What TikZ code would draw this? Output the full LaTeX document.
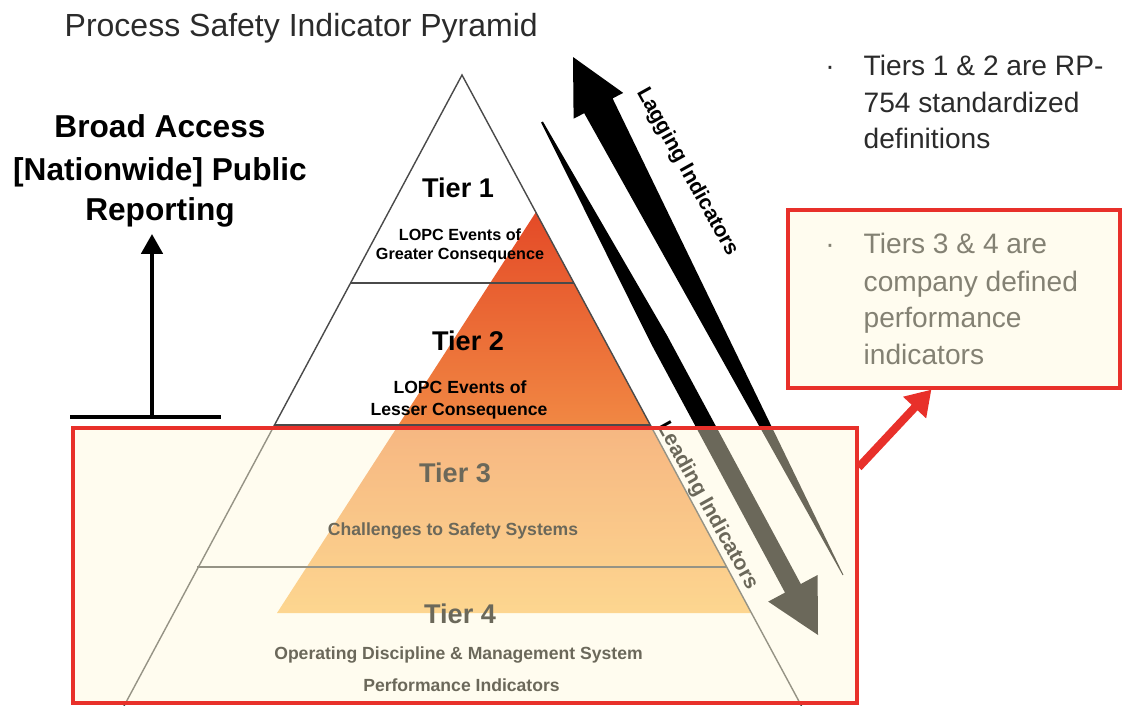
\documentclass[tikz,border=0pt]{standalone}
\usepackage{fontspec}
\setmainfont{Liberation Sans}
\usetikzlibrary{arrows.meta,fit}

\definecolor{boxred}{HTML}{E8302A}
\definecolor{cream}{HTML}{FFF8D8}
\definecolor{pyrgray}{HTML}{4A4A4A}
\definecolor{ortop}{HTML}{E44A27}
\definecolor{ormid}{HTML}{F2893F}
\definecolor{orbot}{HTML}{FCBE5C}
\definecolor{inkgray}{HTML}{2B2B2B}

\begin{document}
\begin{tikzpicture}[x=0.01cm,y=-0.01cm,
    pyrline/.style={draw=pyrgray,line width=0.4pt},
    tiertitle/.style={font=\bfseries\fontsize{7.7}{9}\selectfont,anchor=base,inner sep=0pt},
    tiersub/.style={font=\bfseries\fontsize{5}{6}\selectfont,anchor=base,inner sep=0pt},
    note/.style={font=\fontsize{8}{10}\selectfont,text=inkgray,anchor=base west,inner sep=0pt},
    access/.style={font=\bfseries\fontsize{9}{11}\selectfont,anchor=base,inner sep=0pt},
    arrowlabel/.style={font=\bfseries\fontsize{6}{7}\selectfont,inner sep=0pt},
    overlaybox/.style={draw=boxred,line width=0.9pt,fill=cream,fill opacity=0.42,inner sep=0pt}]
\useasboundingbox (0,0) rectangle (1124,706);
% title
\node[anchor=base west,inner sep=0pt,text=inkgray,font=\fontsize{9.1}{11}\selectfont] (title) at (64,36) {Process Safety Indicator Pyramid};
% orange wedge
\shade[top color=ortop,middle color=ormid,bottom color=orbot] (536,212) -- (277,613) -- (751,613) -- cycle;
% pyramid
\draw[pyrline] (124,706) -- (462,75) -- (801.5,706);
\draw[pyrline] (350.1,283) -- (573.9,283);
\draw[pyrline] (273.7,425) -- (650.3,425);
\draw[pyrline] (197.3,567) -- (726.7,567);
\node[tiertitle] (tier1) at (458,197) {Tier 1};
\node[tiersub,font=\bfseries\fontsize{4.6}{5}\selectfont] (tier1a) at (460,240) {LOPC Events of};
\node[tiersub,font=\bfseries\fontsize{4.6}{5}\selectfont] (tier1b) at (460,259) {Greater Consequence};
\node[tiertitle] (tier2) at (468,350) {Tier 2};
\node[tiersub] (tier2a) at (460,393) {LOPC Events of};
\node[tiersub] (tier2b) at (459,415) {Lesser Consequence};
\node[tiertitle] (tier3) at (455,482) {Tier 3};
\node[tiersub] (tier3a) at (453,535) {Challenges to Safety Systems};
\node[tiertitle] (tier4) at (460,623) {Tier 4};
\node[tiersub] (tier4a) at (458.5,659) {Operating Discipline \& Management System};
\node[tiersub] (tier4b) at (461.5,691) {Performance Indicators};
% lagging and leading arrows
\fill[black] (573,57) -- (623.2,92.9) -- (612.6,98.4) -- (843.4,574.8) -- (842.6,575.2) -- (584.2,113.2) -- (573.6,118.7) -- cycle;
\fill[black] (542.9,121.5) -- (667.2,335.7) -- (800.8,584.0) -- (817.6,575.0) -- (818,635) -- (768.2,601.6) -- (785.0,592.6) -- (651.4,344.3) -- (541.1,122.5) -- cycle;
\node[arrowlabel,rotate=-61] (lagging) at (687,172) {Lagging Indicators};
\node[arrowlabel,rotate=-61] (leading) at (707,506) {Leading Indicators};
% public reporting
\node[access] (access1) at (160,137) {Broad Access};
\node[access] (access2) at (160,180) {[Nationwide] Public};
\node[access] (access3) at (160,220) {Reporting};
\draw[line width=1.4pt] (70,417) -- (221,417);
\coordinate (barmid) at (152,417);
\draw[line width=1.3pt,-{Triangle[length=5.7pt,width=6pt]},shorten >=0.65mm] (barmid) -- (barmid |- access3.south);
% notes
\node[note,anchor=base] (dot1) at (830,75) {·};
\node[note] (note1a) at (863,75) {Tiers 1 \& 2 are RP-};
\node[note] (note1b) at (863,112) {754 standardized};
\node[note] (note1c) at (863,148) {definitions};
\node[note,anchor=base] (dot2) at (830,253) {·};
\node[note] (note2a) at (863,253) {Tiers 3 \& 4 are};
\node[note] (note2b) at (863,291) {company defined};
\node[note] (note2c) at (863,327) {performance};
\node[note] (note2d) at (863,364) {indicators};
% boxes
\coordinate (tbnw) at (73,428);
\coordinate (tbse) at (857,703);
\node[overlaybox,fit=(tbnw)(tbse)] (tierbox) {};
\coordinate (nbnw) at (788,210);
\coordinate (nbse) at (1120,388);
\node[overlaybox,fit=(nbnw)(nbse)] (notebox) {};
\draw[boxred,line width=2.3pt,-{Triangle[length=7pt,width=8.5pt]}] (tierbox.14.4) -- (notebox.-104);
\end{tikzpicture}
\end{document}
